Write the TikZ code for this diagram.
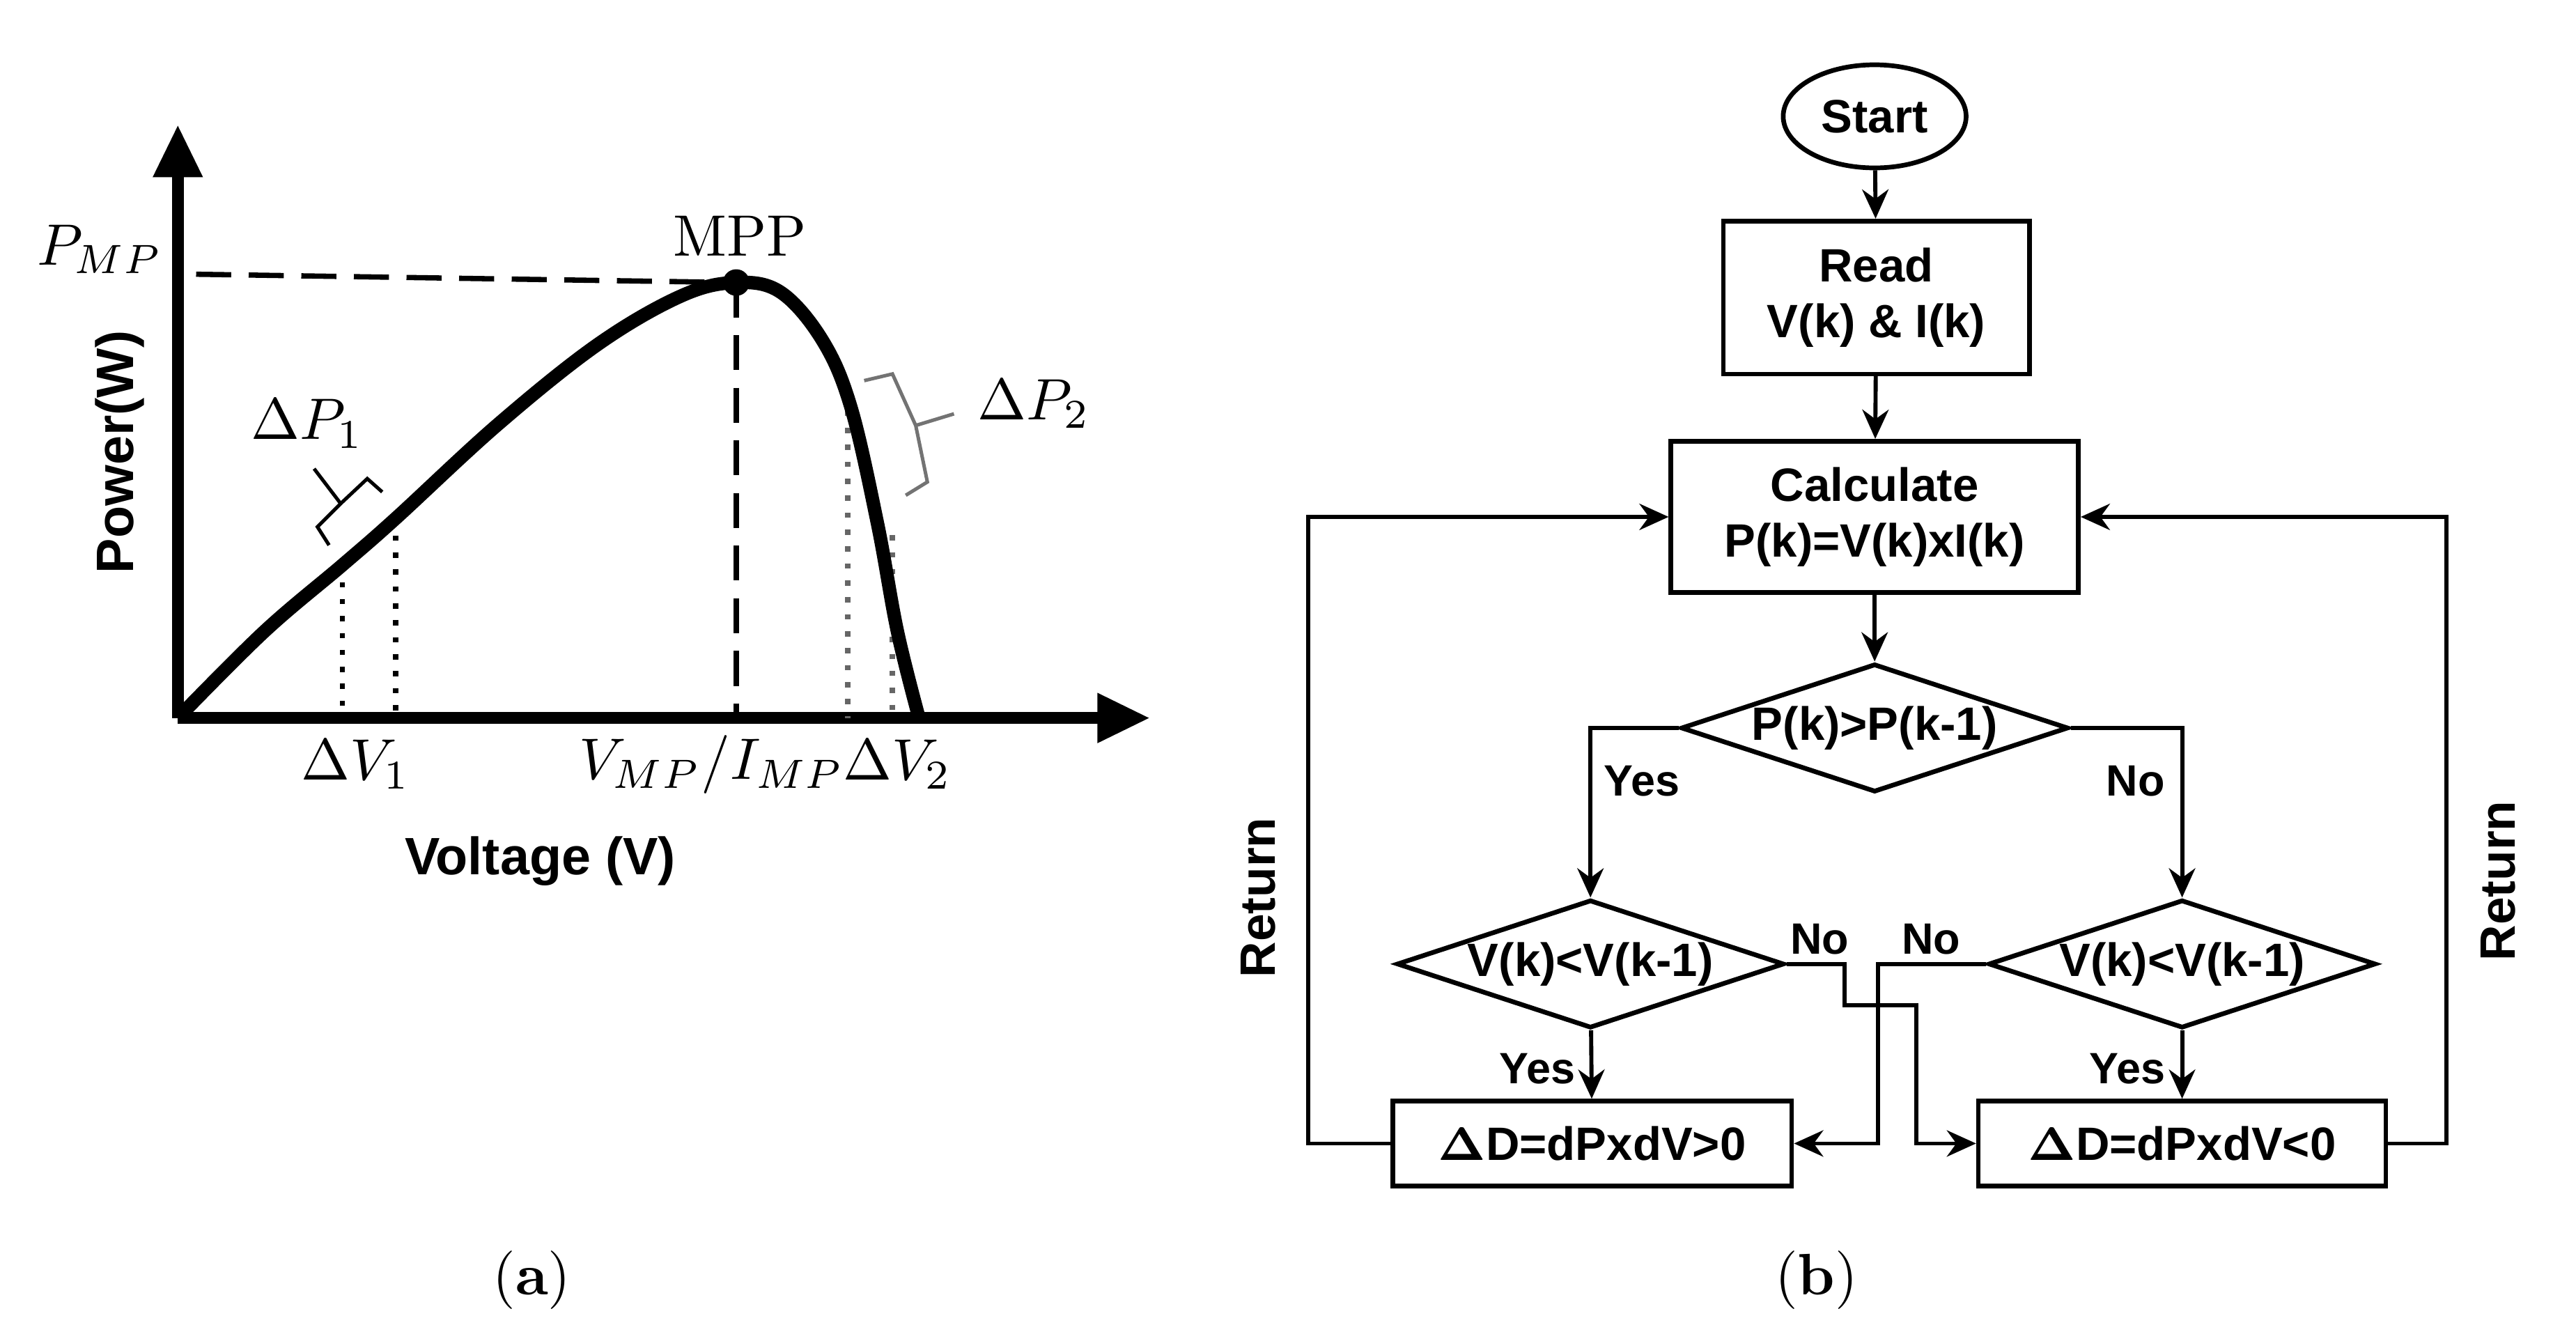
\documentclass[tikz,border=0pt]{standalone}
\usepackage{fontspec}
\usepackage{amsmath}
\newfontfamily\flowfont{Liberation Sans}
\usetikzlibrary{shapes.geometric, arrows.meta, positioning}

\tikzset{
  axis/.style = {line width = 2pt, -{Triangle[length = 9pt, width = 8pt]}},
  flow/.style = {line width = 0.7pt, -{Stealth[length = 5pt, width = 4.5pt]}},
  line/.style = {line width = 0.7pt},
  box/.style = {draw = black, line width = 0.8pt, font = \flowfont\bfseries\fontsize{8}{9.5}\selectfont, align = center, inner sep = 1pt},
  decision/.style = {box, diamond, aspect = 2.9, inner sep = 0pt},
  lab/.style = {font = \flowfont\bfseries\fontsize{7.5}{9}\selectfont, inner sep = 1pt},
  math/.style = {font = \fontsize{10}{12}\selectfont, inner sep = 1pt}
}

\begin{document}
\begin{tikzpicture}[x = 0.01cm, y = -0.01cm]
\useasboundingbox (0, 0) rectangle (1550, 797);

% plot (a)
\coordinate (origin) at (107, 432);
\coordinate (ytip) at (107, 75);
\coordinate (xtip) at (692, 432);
\coordinate (mpp) at (443, 170);
\draw [axis] (origin) -- (ytip);
\draw [axis] (origin) -- (xtip);

\draw [line width = 0.9pt, dashed, dash pattern = on 6pt off 3pt] (118, 165) -- (mpp);
\draw [line width = 0.9pt, dashed, dash pattern = on 6pt off 3pt] (mpp) -- (443, 432);
\draw [line width = 0.9pt, dotted] (206, 340) -- (206, 432);
\draw [line width = 0.9pt, dotted] (238, 312) -- (238, 432);
\draw [line width = 0.9pt, dotted, black!60] (510, 237) -- (510, 432);
\draw [line width = 0.9pt, dotted, black!60] (537, 322) -- (537, 432);

\draw [line width = 2.3pt] plot [smooth, tension = 0.6] coordinates {
  (107, 432) (159, 380) (206, 340) (238, 312) (300, 255) (360, 207)
  (410, 178) (443, 170) (470, 176) (495, 205) (512, 245) (528, 315)
  (540, 380) (553, 432)};
\fill (mpp) circle (8);

\draw [line width = 0.6pt] (230, 296) -- (221, 288) -- (205, 303) -- (191, 317) -- (198, 328);
\draw [line width = 0.6pt] (205, 303) -- (189, 282);
\draw [line width = 0.6pt, black!55] (520, 229) -- (537, 225) -- (551, 256) -- (558, 290) -- (545, 298);
\draw [line width = 0.6pt, black!55] (551, 256) -- (574, 249);

\node [math] (pmp) at (60, 150) {$P_{MP}$};
\node [math] (mpplab) at (445, 142) {MPP};
\node [math] (dp1) at (185, 255) {$\Delta P_1$};
\node [math] (dp2) at (622, 243) {$\Delta P_2$};
\node [math] (dv1) at (214, 460) {$\Delta V_1$};
\node [math] (vmp) at (428, 460) {$V_{MP}/I_{MP}$};
\node [math] (dv2) at (540, 460) {$\Delta V_2$};
\node [box, draw = none, font = \flowfont\bfseries\fontsize{9}{11}\selectfont] (xlab) at (325, 518) {Voltage (V)};
\node [box, draw = none, font = \flowfont\bfseries\fontsize{9}{11}\selectfont, rotate = 90] (ylab) at (72, 272) {Power(W)};
\node [math] (capa) at (320, 770) {(\textbf{a})};

% flowchart (b)
\node [box, ellipse, minimum width = 1.1cm, minimum height = 0.62cm] (start) at (1128, 70) {Start};
\node [box, minimum width = 1.84cm, minimum height = 0.92cm] (read) at (1129, 179) {Read\\V(k) \& I(k)};
\node [box, minimum width = 2.45cm, minimum height = 0.91cm] (calc) at (1128, 311) {Calculate\\P(k)=V(k)xI(k)};
\node [decision, minimum width = 2.33cm] (dec1) at (1128, 438) {P(k)>P(k-1)};
\node [decision, minimum width = 2.33cm] (dec2) at (957, 580) {V(k)<V(k-1)};
\node [decision, minimum width = 2.33cm] (dec3) at (1313, 580) {V(k)<V(k-1)};
\node [box, minimum width = 2.4cm, minimum height = 0.51cm] (inc) at (958, 688) {$\boldsymbol{\Delta}$D=dPxdV>0};
\node [box, minimum width = 2.45cm, minimum height = 0.51cm] (dec) at (1313, 688) {$\boldsymbol{\Delta}$D=dPxdV<0};

\draw [flow] (start) -- (read);
\draw [flow] (read) -- (calc);
\draw [flow] (calc) -- (dec1);
\draw [flow] (dec1.west) -| (dec2.north);
\draw [flow] (dec1.east) -| (dec3.north);
\draw [flow] (dec2) -- (inc);
\draw [flow] (dec3) -- (dec);
\draw [flow] (dec2.east) -- (1110, 580) -- (1110, 605) -- (1153, 605) |- (dec.west);
\draw [flow] (dec3.west) -- (1130, 580) |- (inc.east);
\draw [flow] (inc.west) -- (787, 688) |- (calc.west);
\draw [flow] (dec.east) -- (1472, 688) |- (calc.east);

\node [lab] (yes1) at (988, 470) {Yes};
\node [lab] (no1) at (1285, 470) {No};
\node [lab] (yes2) at (925, 643) {Yes};
\node [lab] (yes3) at (1280, 643) {Yes};
\node [lab] (no2) at (1095, 565) {No};
\node [lab] (no3) at (1162, 565) {No};
\node [lab, font = \flowfont\bfseries\fontsize{8.5}{10}\selectfont, rotate = 90] (ret1) at (757, 540) {Return};
\node [lab, font = \flowfont\bfseries\fontsize{8.5}{10}\selectfont, rotate = 90] (ret2) at (1503, 530) {Return};
\node [math] (capb) at (1093, 770) {(\textbf{b})};
\end{tikzpicture}
\end{document}
